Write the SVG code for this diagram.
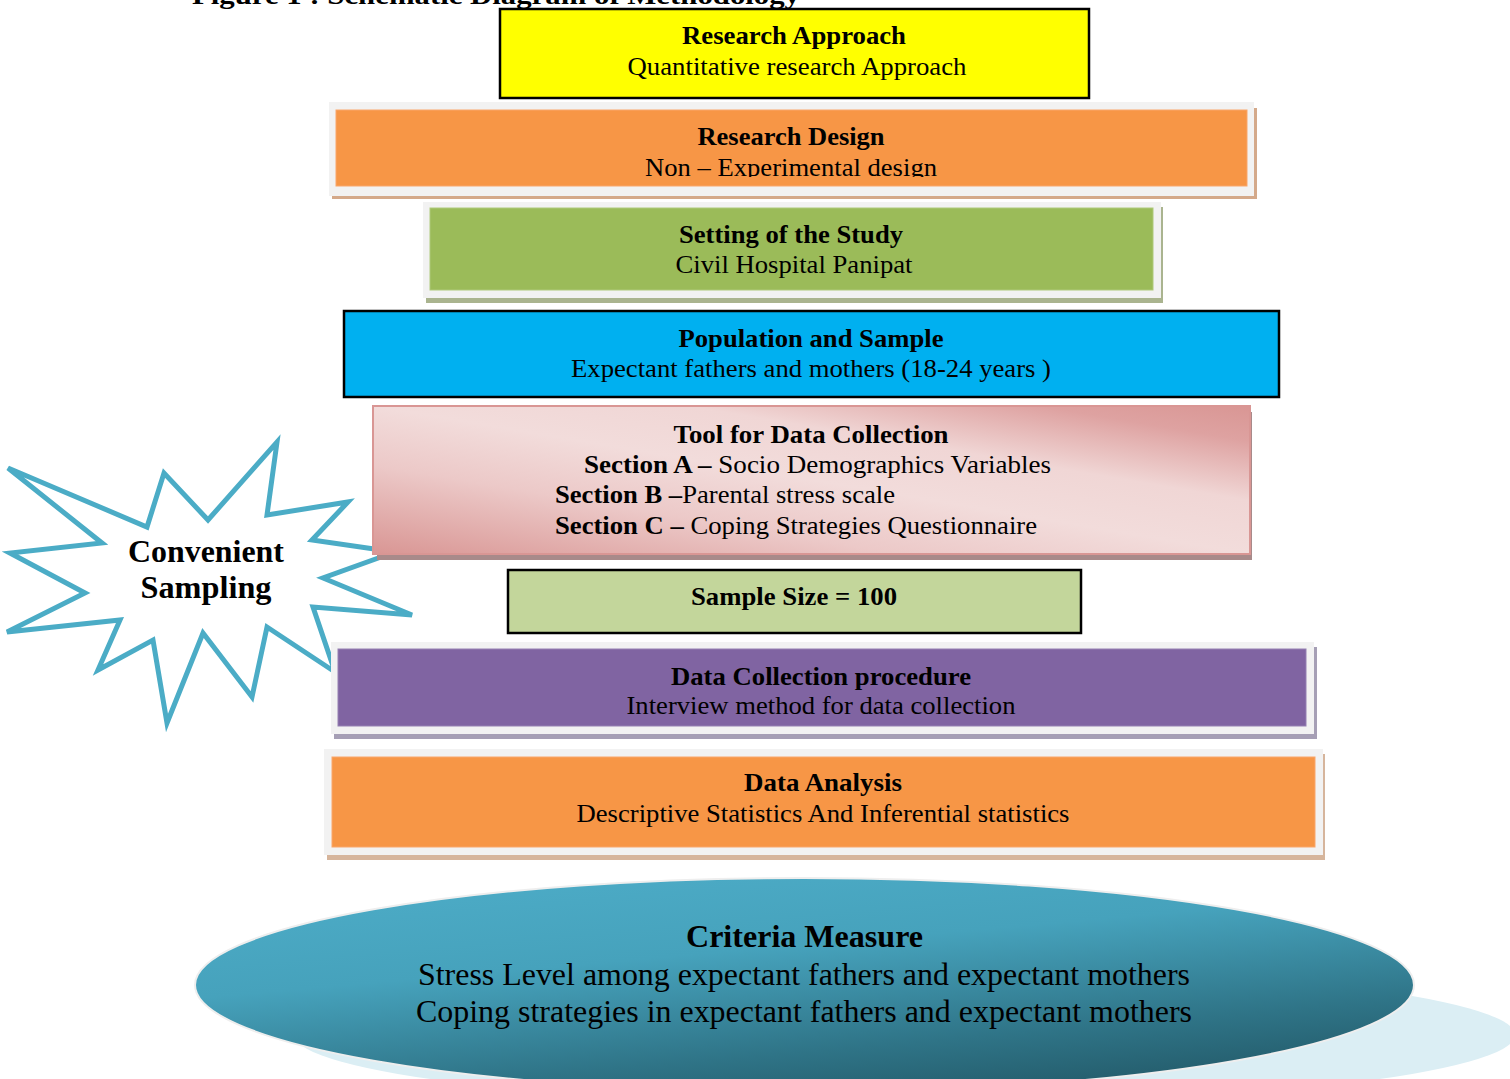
<svg xmlns="http://www.w3.org/2000/svg" width="1510" height="1079" viewBox="0 0 1510 1079">
<defs>
<style>
text{font-family:"Liberation Serif","Times New Roman",serif;fill:#000;}
.t{font-size:26px;text-anchor:middle;}
.b{font-weight:bold;}
.frame{fill:#f2f2f2;}
.box-stroke{stroke:#000;stroke-width:2.5;}
.big{font-size:31px;text-anchor:middle;}
</style>
<linearGradient id="pinkGrad" x1="0" y1="1" x2="1" y2="0">
<stop offset="0" stop-color="#d99694"/>
<stop offset="0.3" stop-color="#ecc9c8"/>
<stop offset="0.5" stop-color="#f2dcdb"/>
<stop offset="0.68" stop-color="#f0d6d5"/>
<stop offset="0.88" stop-color="#dea2a1"/>
<stop offset="1" stop-color="#d99694"/>
</linearGradient>
<linearGradient id="ellGrad" x1="0.25" y1="0" x2="0.75" y2="1">
<stop offset="0" stop-color="#4cabc6"/>
<stop offset="0.35" stop-color="#46a2bc"/>
<stop offset="0.75" stop-color="#2f7487"/>
<stop offset="1" stop-color="#235a69"/>
</linearGradient>
<clipPath id="clipDesign"><rect x="336" y="110" width="911" height="67"/></clipPath>
</defs>

<text class="b" x="192" y="4" font-size="26" textLength="608" lengthAdjust="spacingAndGlyphs">Figure 1 : Schematic Diagram of Methodology</text>

<g id="convenient-sampling">
<polygon points="8,468 147,527 164,473 208,520 277,442 267,515 348,502 312,540 395,552 323,578 412,615 313,607 335,672 267,627 252,697 203,633 167,723 153,640 98,670 120,620 7,632 85,593 10,553 102,543" fill="#ffffff" stroke="#4bacc6" stroke-width="5" stroke-linejoin="miter"/>
<text class="big b" x="206" y="562" textLength="156" lengthAdjust="spacingAndGlyphs">Convenient</text>
<text class="big b" x="206" y="598" textLength="131" lengthAdjust="spacingAndGlyphs">Sampling</text>
</g>

<g id="research-approach">
<rect x="500" y="9" width="589" height="89" fill="#ffff00" class="box-stroke"/>
<text class="t b" x="794" y="44" textLength="224" lengthAdjust="spacingAndGlyphs">Research Approach</text>
<text class="t" x="797" y="75" textLength="339" lengthAdjust="spacingAndGlyphs">Quantitative research Approach</text>
</g>

<g id="research-design">
<rect x="332" y="108" width="925" height="91" fill="#d4a98a"/>
<rect x="329" y="102" width="925" height="94" class="frame"/>
<rect x="336" y="110" width="911" height="76" fill="#f79646" stroke="#f9a66a" stroke-width="1"/>
<text class="t b" x="791" y="145" textLength="187" lengthAdjust="spacingAndGlyphs">Research Design</text>
<text class="t" x="791" y="176" textLength="292" lengthAdjust="spacingAndGlyphs" clip-path="url(#clipDesign)">Non – Experimental design</text>
</g>

<g id="setting">
<rect x="426" y="207" width="737" height="96" fill="#aab48f"/>
<rect x="423" y="202" width="738" height="96" class="frame"/>
<rect x="430" y="208" width="723" height="82" fill="#9bbb59" stroke="#aec97a" stroke-width="1"/>
<text class="t b" x="791" y="243" textLength="224" lengthAdjust="spacingAndGlyphs">Setting of the Study</text>
<text class="t" x="794" y="273" textLength="237" lengthAdjust="spacingAndGlyphs">Civil Hospital Panipat</text>
</g>

<g id="population">
<rect x="344" y="311" width="935" height="86" fill="#00b0f0" class="box-stroke"/>
<text class="t b" x="811" y="347" textLength="265" lengthAdjust="spacingAndGlyphs">Population and Sample</text>
<text class="t" x="811" y="377" textLength="480" lengthAdjust="spacingAndGlyphs">Expectant fathers and mothers (18-24 years )</text>
</g>

<g id="tool">
<rect x="377" y="412" width="875" height="148" fill="#a88a8a"/>
<rect x="373" y="406" width="877" height="148" fill="url(#pinkGrad)" stroke="#d99694" stroke-width="2"/>
<text class="t b" x="811" y="443" textLength="275" lengthAdjust="spacingAndGlyphs">Tool for Data Collection</text>
<text x="584" y="473" font-size="26" textLength="467" lengthAdjust="spacingAndGlyphs"><tspan font-weight="bold">Section A –</tspan> Socio Demographics Variables</text>
<text x="555" y="503" font-size="26" textLength="340" lengthAdjust="spacingAndGlyphs"><tspan font-weight="bold">Section B –</tspan>Parental stress scale</text>
<text x="555" y="534" font-size="26" textLength="482" lengthAdjust="spacingAndGlyphs"><tspan font-weight="bold">Section C –</tspan> Coping Strategies Questionnaire</text>
</g>

<g id="sample-size">
<rect x="508" y="570" width="573" height="63" fill="#c3d69b" class="box-stroke"/>
<text class="t b" x="794" y="605" textLength="206" lengthAdjust="spacingAndGlyphs">Sample Size = 100</text>
</g>

<g id="data-collection">
<rect x="334" y="647" width="983" height="92" fill="#a69fb5"/>
<rect x="331" y="642" width="983" height="92" class="frame"/>
<rect x="338" y="649" width="968" height="77" fill="#8064a2" stroke="#9580b2" stroke-width="1"/>
<text class="t b" x="821" y="685" textLength="300" lengthAdjust="spacingAndGlyphs">Data Collection procedure</text>
<text class="t" x="821" y="714" textLength="389" lengthAdjust="spacingAndGlyphs">Interview method for data collection</text>
</g>

<g id="data-analysis">
<rect x="327" y="754" width="998" height="106" fill="#d6b59c"/>
<rect x="324" y="749" width="999" height="106" class="frame"/>
<rect x="332" y="757" width="983" height="90" fill="#f79646" stroke="#f9a66a" stroke-width="1"/>
<text class="t b" x="823" y="791" textLength="158" lengthAdjust="spacingAndGlyphs">Data Analysis</text>
<text class="t" x="823" y="822" textLength="493" lengthAdjust="spacingAndGlyphs">Descriptive Statistics And Inferential statistics</text>
</g>

<g id="criteria-measure">
<ellipse cx="905" cy="1035" rx="610" ry="70" fill="#dbeef4"/>
<ellipse cx="804.5" cy="985" rx="609.5" ry="107" fill="url(#ellGrad)" stroke="#eeeeee" stroke-width="2"/>
<text class="big b" x="804.5" y="947" textLength="237" lengthAdjust="spacingAndGlyphs">Criteria Measure</text>
<text class="big" x="804" y="985" textLength="772" lengthAdjust="spacingAndGlyphs">Stress Level among expectant fathers and expectant mothers</text>
<text class="big" x="804" y="1022" textLength="776" lengthAdjust="spacingAndGlyphs">Coping strategies in expectant fathers and expectant mothers</text>
</g>

<g id="connectors"></g>
</svg>
